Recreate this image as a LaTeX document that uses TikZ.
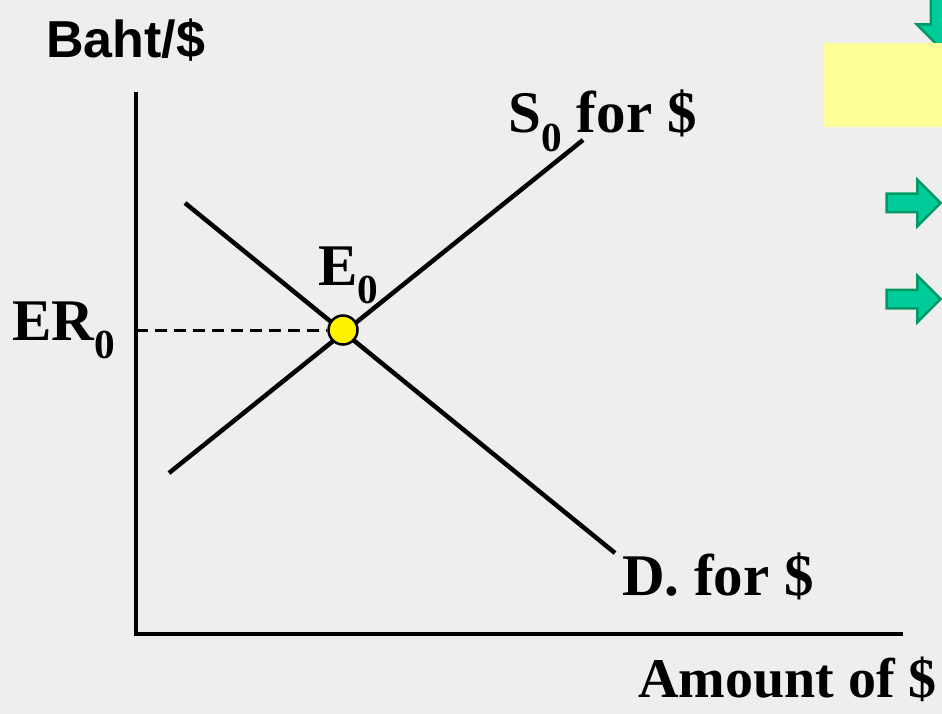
\documentclass[tikz,border=0pt]{standalone}
\usepackage{fontspec}
\setmainfont{Liberation Serif}
\newfontfamily\arialfont{Liberation Sans}
\usepackage{tikz}
\usetikzlibrary{shapes.arrows,calc}

\definecolor{slidebg}{HTML}{EEEEEE}
\definecolor{notepad}{HTML}{FFFF99}
\definecolor{arrowfill}{HTML}{00CC99}
\definecolor{arrowedge}{HTML}{009966}

\begin{document}
\begin{tikzpicture}[
      x=1pt, y=-1pt,
      axis/.style={line width=3.5pt},
      curve/.style={line width=4.5pt},
      guide/.style={line width=3pt, dash pattern=on 12pt off 7pt},
      lab/.style={font=\fontsize{59}{64}\selectfont\bfseries, inner sep=0pt},
      eqdot/.style={circle, draw, line width=2.5pt, fill=yellow,
        minimum size=29pt, inner sep=0pt},
      bullet/.style={single arrow, draw=arrowedge, fill=arrowfill, line width=2.5pt,
        minimum height=54pt, minimum width=44pt, single arrow head extend=14pt,
        inner xsep=0pt, inner ysep=8pt},
    ]
    % slide background
    \fill[slidebg] (0,0) rectangle (942,714);
    \useasboundingbox (0,0) rectangle (942,714);

    % decoration on the right edge of the slide
    \begin{scope}
      \clip (0,0) rectangle (942,714);
      \node[bullet, rotate=-90] (arrtop) at (940,16) {};
    \end{scope}
    \fill[notepad] (824,43) rectangle (942,127);
    \node[bullet] (arrone) at (909,203) {};
    \node[bullet] (arrtwo) at (909,299) {};

    % axes
    \coordinate (origin) at (136,634);
    \coordinate (ytop) at (136,92);
    \coordinate (xend) at (903,634);
    \draw[axis] (ytop) -- (origin) -- (xend);

    % demand and supply
    \coordinate (dtop) at (185,203);
    \coordinate (dbot) at (615,553);
    \coordinate (sbot) at (169,473);
    \coordinate (stop) at (583,140);
    \draw[curve] (dtop) -- (dbot);
    \draw[curve] (sbot) -- (stop);

    % equilibrium
    \node[eqdot] (eq) at (343,330) {};
    \draw[guide] (origin|-eq) -- (eq.west);

    % labels
    \node[font=\arialfont\fontsize{52}{58}\selectfont\bfseries, inner sep=0pt, anchor=base west] (yname) at (46,58) {Baht/\$};
    \node[lab, font=\fontsize{56}{60}\selectfont\bfseries, anchor=base west] (xname) at (638,697) {Amount of \$};
    \node[lab, anchor=base west] (erlab) at (12,340) {ER$_{\mathbf{0}}$};
    \node[lab, anchor=base west] (eqlab) at (318,285) {E$_{\mathbf{0}}$};
    \node[lab, anchor=base west] (slab) at (508,133) {S$_{\mathbf{0}}$ for \$};
    \node[lab, anchor=base west] (dlab) at (622,595) {D. for \$};
  \end{tikzpicture}
\end{document}
